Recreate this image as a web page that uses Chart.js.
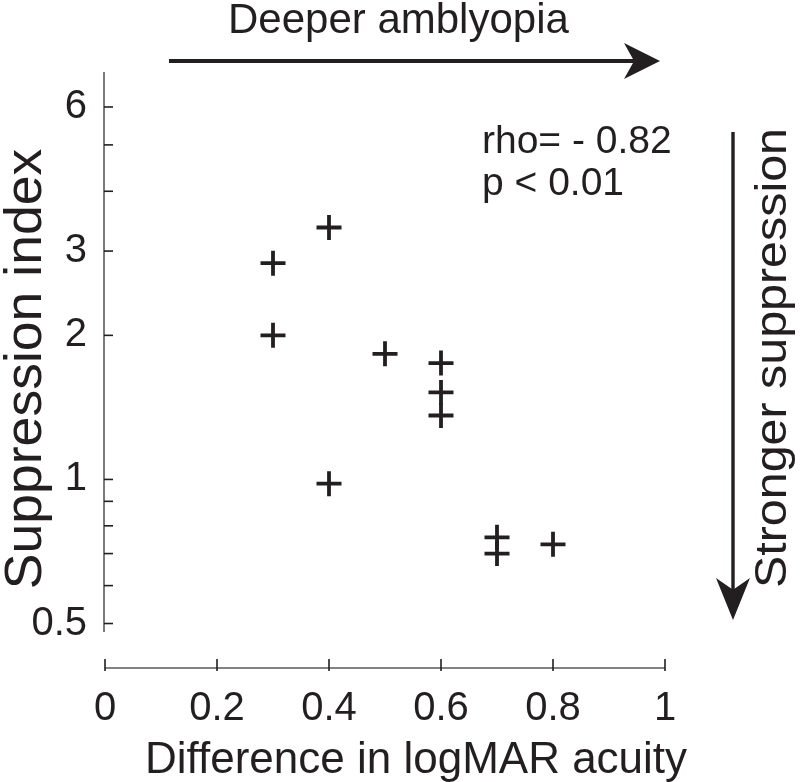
<!DOCTYPE html>
<html>
<head>
<meta charset="utf-8">
<script src="https://cdn.jsdelivr.net/npm/chart.js@4"></script>
<style>html,body{margin:0;padding:0;background:#fff}</style>
</head>
<body>
<canvas id="scatter" width="800" height="782"></canvas>
<script>
// data
const logMarDiff = [0.3, 0.4, 0.3, 0.5, 0.6, 0.6, 0.6, 0.4, 0.7, 0.7, 0.8];
const suppression = [2.83, 3.36, 2.0, 1.83, 1.75, 1.52, 1.36, 0.98, 0.757, 0.70, 0.732];
const xTicks = [0, 0.2, 0.4, 0.6, 0.8, 1];
const yTicks = [0.5, 0.6, 0.7, 0.8, 0.9, 1, 2, 3, 4, 5, 6];
const yLabels = [0.5, 1, 2, 3, 6];

const ink = '#231f20';
const face = '"Liberation Sans", Arial, Helvetica, sans-serif';

function arrow(ctx, x1, y1, x2, y2, lw, len, half) {
    const ang = Math.atan2(y2 - y1, x2 - x1);
    ctx.save();
    ctx.translate(x2, y2);
    ctx.rotate(ang);
    const dist = Math.hypot(x2 - x1, y2 - y1);
    ctx.lineWidth = lw;
    ctx.beginPath();
    ctx.moveTo(-dist, 0);
    ctx.lineTo(-len * 0.7, 0);
    ctx.stroke();
    ctx.beginPath();
    ctx.moveTo(0, 0);
    ctx.lineTo(-len, -half);
    ctx.lineTo(-len * 0.72, 0);
    ctx.lineTo(-len, half);
    ctx.closePath();
    ctx.fill();
    ctx.restore();
}

// rotated text, slightly stretched along its length like the figure
function vText(ctx, text, bx, cy, size, stretch) {
    ctx.save();
    ctx.translate(bx, cy);
    ctx.rotate(-Math.PI / 2);
    ctx.scale(stretch, 1);
    ctx.font = size + 'px ' + face;
    ctx.textAlign = 'center';
    ctx.textBaseline = 'alphabetic';
    ctx.fillText(text, 0, 0);
    ctx.restore();
}

const decor = {
    id: 'decor',
    afterDraw(chart) {
        const {ctx, chartArea: a, scales: {x, y}} = chart;
        ctx.save();
        ctx.fillStyle = ink;

        // y axis with inward ticks
        ctx.strokeStyle = '#58595b';
        ctx.lineWidth = 1.6;
        ctx.beginPath();
        ctx.moveTo(a.left - 1, a.top);
        ctx.lineTo(a.left - 1, a.bottom);
        ctx.stroke();
        ctx.strokeStyle = ink;
        yTicks.forEach(v => {
            const py = y.getPixelForValue(v);
            ctx.beginPath();
            ctx.moveTo(a.left - 1, py);
            ctx.lineTo(a.left + 8, py);
            ctx.stroke();
        });

        // detached x axis
        const ay = a.bottom + 36;
        ctx.strokeStyle = '#58595b';
        ctx.beginPath();
        ctx.moveTo(x.getPixelForValue(0), ay);
        ctx.lineTo(x.getPixelForValue(1), ay);
        ctx.stroke();
        ctx.strokeStyle = ink;
        xTicks.forEach(v => {
            const px = x.getPixelForValue(v);
            ctx.beginPath();
            ctx.moveTo(px, ay - 9);
            ctx.lineTo(px, ay + 3);
            ctx.stroke();
        });

        // arrows
        ctx.strokeStyle = ink;
        arrow(ctx, 169, 61, 660, 61, 4, 36, 18);
        arrow(ctx, 733, 132, 733, 620, 3.4, 42, 17);

        // annotations
        ctx.textAlign = 'left';
        ctx.textBaseline = 'alphabetic';
        ctx.font = '42px ' + face;
        ctx.fillText('Deeper amblyopia', 228, 33);
        ctx.font = '39px ' + face;
        ctx.fillText('rho= - 0.82', 482, 153);
        ctx.fillText('p < 0.01', 482, 195);
        ctx.font = '44px ' + face;
        ctx.fillText('Difference in logMAR acuity', 145, 773);

        vText(ctx, 'Suppression index', 41, 369, 52, 1.03);
        vText(ctx, 'Stronger suppression', 786, 358, 44, 1.1);
        ctx.restore();
    }
};

new Chart(document.getElementById('scatter'), {
    type: 'scatter',
    data: {
        datasets: [{
            data: logMarDiff.map((v, i) => ({x: v, y: suppression[i]})),
            pointStyle: 'cross',
            pointRadius: 12.5,
            pointHoverRadius: 12.5,
            borderColor: ink,
            backgroundColor: ink,
            pointBorderWidth: 3.8
        }]
    },
    options: {
        responsive: false,
        animation: false,
        devicePixelRatio: 1,
        layout: {padding: {top: 72, right: 135, left: 0, bottom: 0}},
        plugins: {legend: {display: false}, tooltip: {enabled: false}},
        scales: {
            x: {
                type: 'linear',
                min: 0,
                max: 1,
                afterBuildTicks: s => { s.ticks = xTicks.map(v => ({value: v})); },
                afterFit: s => { s.height = 150; },
                grid: {display: false},
                border: {display: false},
                ticks: {
                    padding: 45,
                    color: ink,
                    font: {family: face, size: 40},
                    callback: v => String(v)
                }
            },
            y: {
                type: 'logarithmic',
                min: 0.48,
                max: 7.1,
                afterBuildTicks: s => { s.ticks = yTicks.map(v => ({value: v})); },
                afterFit: s => { s.width = 105; },
                grid: {display: false},
                border: {display: false},
                ticks: {
                    padding: 10,
                    autoSkip: false,
                    color: ink,
                    font: {family: face, size: 40},
                    callback: v => yLabels.includes(v) ? String(v) : ''
                }
            }
        }
    },
    plugins: [decor]
});
</script>
</body>
</html>
